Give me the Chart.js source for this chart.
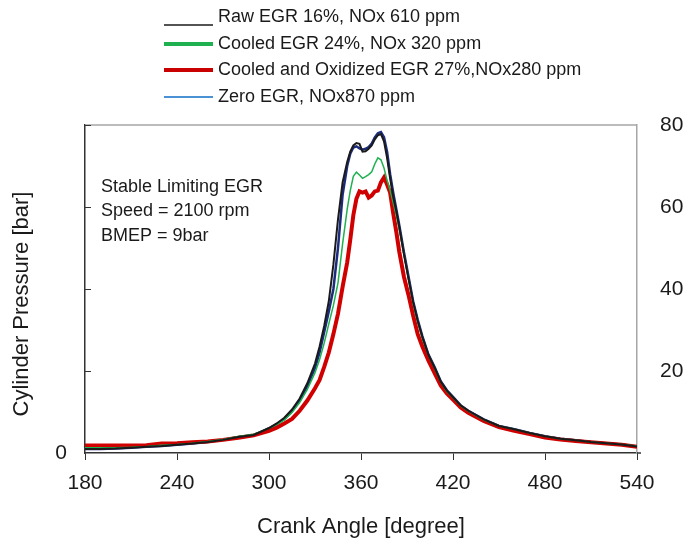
<!DOCTYPE html>
<html>
<head>
<meta charset="utf-8">
<script src="https://cdn.jsdelivr.net/npm/chart.js@4.4.1/dist/chart.umd.min.js"></script>
<style>
  html, body { margin: 0; padding: 0; background: #fff; }
  #wrap { width: 691px; height: 540px; }
</style>
</head>
<body>
<div id="wrap"><canvas id="pressure-chart" width="691" height="540"></canvas></div>
<script>
  // crank angle grid [deg] shared by all four traces
  const crankAngle = [
    180, 190, 200, 210, 220, 230, 240, 250, 260, 270, 280, 290, 300, 305, 310, 315,
    320, 325, 330, 333, 336, 339, 342, 345, 348, 351, 353, 355, 357, 359, 361, 363,
    365, 367, 369, 371, 373, 375, 377, 379, 381, 383, 385, 388, 391, 394, 397, 400,
    404, 408, 412, 416, 420, 425, 430, 440, 450, 460, 470, 480, 490, 500, 510, 520,
    530, 540
  ];

  // cylinder pressure [bar]
  const rawEgr = [
    1.0, 1.0, 1.1, 1.3, 1.5, 1.7, 2.0, 2.3, 2.7, 3.2, 3.9, 4.4, 6.1, 7.2, 8.6, 10.6,
    13.3, 17.0, 21.8, 26.0, 31.0, 37.0, 46.0, 57.0, 66.0, 71.0, 73.5, 75.0, 75.6, 75.4, 73.5, 73.6,
    74.2, 75.0, 76.5, 77.5, 77.8, 76.0, 72.0, 67.0, 62.5, 59.0, 55.0, 48.5, 42.5, 36.8, 32.2, 28.3,
    23.9, 20.8, 17.4, 15.2, 13.6, 11.6, 10.3, 8.2, 6.6, 5.8, 4.9, 4.1, 3.5, 3.1, 2.7, 2.4,
    2.1, 1.6
  ];
  const cooledEgr = [
    1.3, 1.3, 1.3, 1.4, 1.6, 1.9, 2.1, 2.4, 2.8, 3.3, 4.0, 4.6, 6.0, 6.9, 8.1, 9.9,
    12.3, 15.5, 19.6, 22.8, 26.8, 31.5, 36.0, 41.5, 51.0, 59.5, 64.0, 67.5, 68.5, 67.8, 67.0, 67.4,
    67.9, 68.6, 70.5, 72.0, 71.5, 69.5, 66.5, 64.0, 61.0, 58.0, 54.5, 48.5, 42.5, 36.5, 32.0, 28.0,
    23.8, 20.6, 17.3, 15.0, 13.5, 11.5, 10.2, 8.1, 6.6, 5.8, 4.9, 4.1, 3.5, 3.1, 2.7, 2.4,
    2.1, 1.7
  ];
  const oxidizedEgr = [
    1.8, 1.8, 1.8, 1.8, 1.9, 2.3, 2.4, 2.6, 2.8, 3.2, 3.7, 4.3, 5.4, 6.2, 7.2, 8.3,
    10.3, 12.8, 15.8, 17.8, 21.0, 24.5, 29.0, 34.0, 40.5, 46.5, 52.0, 58.0, 62.0, 63.8, 63.5, 63.8,
    62.3, 62.8, 63.8, 64.0, 66.0, 67.2, 65.5, 63.5, 58.5, 54.0, 49.0, 43.0, 38.5, 33.5, 29.0, 26.0,
    22.5, 19.5, 16.5, 14.5, 13.0, 11.1, 9.8, 7.8, 6.3, 5.4, 4.6, 3.8, 3.3, 2.9, 2.6, 2.3,
    2.0, 1.5
  ];
  const zeroEgr = [
    1.0, 1.0, 1.1, 1.3, 1.5, 1.7, 2.0, 2.3, 2.7, 3.2, 3.9, 4.3, 6.0, 7.0, 8.3, 10.2,
    12.8, 16.3, 20.8, 24.5, 29.5, 34.5, 40.0, 50.0, 63.0, 70.0, 73.0, 74.5, 74.8, 74.3, 74.0, 74.2,
    74.6, 75.5, 77.0, 78.0, 78.3, 77.0, 73.5, 68.0, 63.5, 59.5, 55.5, 49.0, 43.0, 37.0, 32.5, 28.5,
    24.0, 21.0, 17.5, 15.3, 13.7, 11.6, 10.3, 8.2, 6.6, 5.8, 4.9, 4.1, 3.5, 3.1, 2.7, 2.4,
    2.1, 1.6
  ];

  const xTicks = [180, 240, 300, 360, 420, 480, 540];
  const yTicks = [0, 20, 40, 60, 80];

  const seriesLabels = [
    "Raw EGR 16%, NOx 610 ppm",
    "Cooled EGR 24%, NOx 320 ppm",
    "Cooled and Oxidized EGR 27%,NOx280 ppm",
    "Zero EGR, NOx870 ppm",
  ];
  const seriesValues = [rawEgr, cooledEgr, oxidizedEgr, zeroEgr];
  const lineColors = ["#1a1a1a", "#1fb04f", "#d00000", "#1c2c7c"];
  const lineWidths = [2, 1.5, 4, 2.5];
  const legendColors = ["#1a1a1a", "#1fb04f", "#c80000", "#4a92d4"];
  const legendWidths = [1.5, 4, 4, 2];

  const FONT = "'Liberation Sans', Arial, sans-serif";
  const AXIS_DARK = "#333333";
  const FRAME_GRAY = "#a6a6a6";

  // legend drawn as a stacked list above the plot
  const stackedLegend = {
    id: "stackedLegend",
    afterDraw(chart) {
      const ctx = chart.ctx;
      const rows = [17, 44, 70, 97];
      const lineDy = [8, 0, 0, 0];
      ctx.save();
      ctx.font = "18px " + FONT;
      ctx.textBaseline = "middle";
      ctx.fillStyle = "#1a1a1a";
      seriesLabels.forEach((label, i) => {
        ctx.strokeStyle = legendColors[i];
        ctx.lineWidth = legendWidths[i];
        ctx.beginPath();
        ctx.moveTo(164, rows[i] + lineDy[i]);
        ctx.lineTo(213, rows[i] + lineDy[i]);
        ctx.stroke();
        ctx.fillText(label, 218, rows[i]);
      });
      ctx.restore();
    },
  };

  // top frame, inward left ticks, y title and the test conditions note
  const plotFrame = {
    id: "plotFrame",
    afterDraw(chart) {
      const ctx = chart.ctx;
      const area = chart.chartArea;
      const y = chart.scales.y;
      ctx.save();
      ctx.strokeStyle = FRAME_GRAY;
      ctx.lineWidth = 1.5;
      ctx.beginPath();
      ctx.moveTo(area.left, area.top);
      ctx.lineTo(area.right, area.top);
      ctx.stroke();

      // bottom axis runs a little past the right frame
      ctx.strokeStyle = AXIS_DARK;
      ctx.beginPath();
      ctx.moveTo(area.right, area.bottom);
      ctx.lineTo(area.right + 4, area.bottom);
      ctx.stroke();

      ctx.lineWidth = 1;
      yTicks.slice(1).forEach((v) => {
        const py = Math.round(y.getPixelForValue(v)) + 0.5;
        ctx.beginPath();
        ctx.moveTo(area.left, py);
        ctx.lineTo(area.left + 6, py);
        ctx.stroke();
      });

      ctx.fillStyle = "#1a1a1a";
      ctx.font = "22px " + FONT;
      ctx.textAlign = "center";
      ctx.textBaseline = "middle";
      ctx.save();
      ctx.translate(22, 304);
      ctx.rotate(-Math.PI / 2);
      ctx.fillText("Cylinder Pressure [bar]", 0, 0);
      ctx.restore();

      ctx.font = "18px " + FONT;
      ctx.textAlign = "left";
      ctx.fillText("Stable Limiting EGR", area.left + 16, 187);
      ctx.fillText("Speed = 2100 rpm", area.left + 16, 211);
      ctx.fillText("BMEP = 9bar", area.left + 16, 236);
      ctx.restore();
    },
  };

  const datasets = seriesValues.map((values, i) => ({
    label: seriesLabels[i],
    data: crankAngle.map((a, k) => ({ x: a, y: values[k] })),
    borderColor: lineColors[i],
    backgroundColor: lineColors[i],
    borderWidth: lineWidths[i],
    pointRadius: 0,
    tension: 0,
    fill: false,
    yAxisID: "y",
  }));

  new Chart(document.getElementById("pressure-chart"), {
    type: "line",
    data: { datasets },
    options: {
      responsive: false,
      animation: false,
      layout: { padding: { top: 125, left: 0, right: 0, bottom: 0 } },
      plugins: {
        legend: { display: false },
        tooltip: { enabled: false },
      },
      scales: {
        x: {
          type: "linear",
          min: 180,
          max: 540,
          afterBuildTicks: (scale) => {
            scale.ticks = xTicks.map((v) => ({ value: v }));
          },
          afterFit: (scale) => {
            scale.height = 87;
          },
          grid: {
            drawOnChartArea: false,
            drawTicks: true,
            tickLength: 7,
            color: AXIS_DARK,
          },
          border: { color: AXIS_DARK, width: 1.5 },
          ticks: {
            padding: 11,
            color: "#1a1a1a",
            font: { family: FONT, size: 21 },
            maxRotation: 0,
          },
          title: {
            display: true,
            text: "Crank Angle [degree]",
            color: "#1a1a1a",
            font: { family: FONT, size: 22 },
            padding: { top: 0, bottom: 0 },
          },
        },
        y: {
          position: "left",
          min: 0,
          max: 80,
          afterBuildTicks: (scale) => {
            scale.ticks = yTicks.map((v) => ({ value: v }));
          },
          afterFit: (scale) => {
            scale.width = 85;
          },
          grid: { display: false, drawOnChartArea: false },
          border: { color: AXIS_DARK, width: 1.5 },
          ticks: {
            padding: 10,
            color: "#1a1a1a",
            font: { family: FONT, size: 21 },
            callback: (v) => (v === 0 ? "0" : ""),
          },
        },
        y2: {
          position: "right",
          min: 0,
          max: 80,
          afterBuildTicks: (scale) => {
            scale.ticks = yTicks.map((v) => ({ value: v }));
          },
          afterFit: (scale) => {
            scale.width = 54;
          },
          grid: { display: false, drawOnChartArea: false },
          border: { color: FRAME_GRAY, width: 1.5 },
          ticks: {
            padding: 15,
            color: "#1a1a1a",
            font: { family: FONT, size: 21 },
            callback: (v) => (v === 0 ? "" : String(v)),
          },
        },
      },
    },
    plugins: [stackedLegend, plotFrame],
  });
</script>
</body>
</html>
